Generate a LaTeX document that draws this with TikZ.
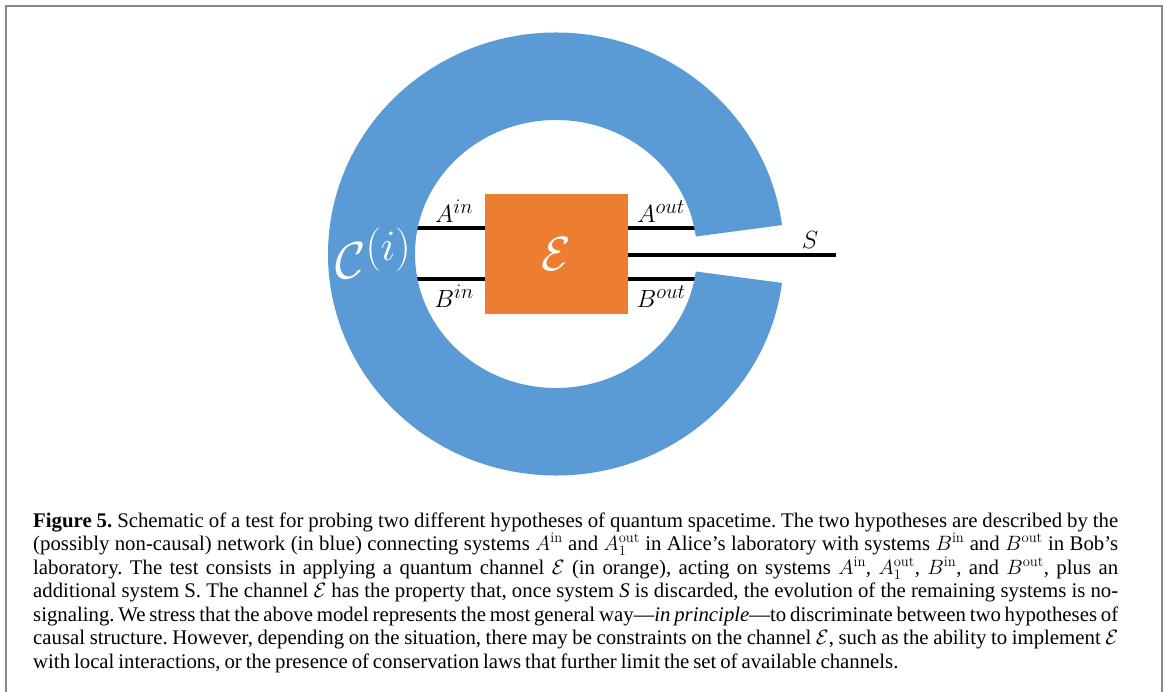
\documentclass[tikz,border=0pt]{standalone}
\usepackage{fontspec}
\newfontfamily\capfont[WordSpace=0.75]{Liberation Serif}
\definecolor{ringblue}{RGB}{91,155,213}
\definecolor{boxorange}{RGB}{237,125,49}
\definecolor{framegray}{RGB}{135,135,135}
\begin{document}
\begin{tikzpicture}[x=1pt,y=-1pt,
  wire/.style={line width=4.5pt,black},
  lbl/.style={anchor=base,inner sep=0pt,font=\fontsize{24.88}{30}\selectfont},
  chanbox/.style={fill=boxorange,minimum width=143pt,minimum height=120pt,inner sep=0pt,text=white,font=\fontsize{24.88}{30}\selectfont},
  ring/.style={fill=ringblue},
  frameline/.style={draw=framegray,line width=2pt}]
\useasboundingbox (0,0) rectangle (1165,692);
\draw[frameline] (6,692) -- (6,6) -- (1162,6) -- (1162,692);
\coordinate (c) at (556,254);
\coordinate (ainL) at (412,228);
\coordinate (binL) at (412,279);
\coordinate (aoutR) at (700,228);
\coordinate (boutR) at (700,279);
\coordinate (sR) at (836,255);
\node[chanbox] (E) at (556.5,254) {\scalebox{1.93}{$\mathcal{E}$}};
\draw[wire] (ainL) -- (ainL -| E.west);
\draw[wire] (binL) -- (binL -| E.west);
\draw[wire] (E.east |- aoutR) -- (aoutR);
\draw[wire] (E.east |- boutR) -- (boutR);
\draw[wire] (E.east |- sR) -- (sR);
\fill[ring] ([shift={(7.5:228 and 221.5)}]c) arc[start angle=7.5,end angle=352.5,x radius=228,y radius=221.5]
  -- ([shift={(352.5:141 and 134)}]c) arc[start angle=352.5,end angle=7.5,x radius=141,y radius=134] -- cycle;
\node[anchor=base west,inner sep=0pt,text=white,font=\fontsize{24.88}{30}\selectfont] (C) at (335,279) {\scalebox{2.09}{$\mathcal{C}^{(i)}$}};
\node[lbl] (Ain) at (454,223) {$A^{in}$};
\node[lbl] (Bin) at (454,308) {$B^{in}$};
\node[lbl] (Aout) at (661,223) {$A^{out}$};
\node[lbl] (Bout) at (661,308) {$B^{out}$};
\node[lbl] (S) at (810,249) {$S$};
\node[anchor=base west,inner sep=0pt] (cap) at (33,527) {\parbox[t]{1085pt}{\capfont\fontsize{20.8}{23.5}\selectfont\frenchspacing
\textbf{Figure 5.} Schematic of a test for probing two different hypotheses of quantum spacetime. The two hypotheses are described by the\linebreak
(possibly non-causal) network (in blue) connecting systems $A^{\mathrm{in}}$ and $A_1^{\mathrm{out}}$ in Alice’s laboratory with systems $B^{\mathrm{in}}$ and $B^{\mathrm{out}}$ in Bob’s\linebreak
laboratory. The test consists in applying a quantum channel $\mathcal{E}$ (in orange), acting on systems $A^{\mathrm{in}}$, $A_1^{\mathrm{out}}$, $B^{\mathrm{in}}$, and $B^{\mathrm{out}}$, plus an\linebreak
additional system S. The channel $\mathcal{E}$ has the property that, once system \textit{S} is discarded, the evolution of the remaining systems is no-\linebreak
signaling. We stress that the above model represents the most general way—\textit{in principle}—to discriminate between two hypotheses of\linebreak
causal structure. However, depending on the situation, there may be constraints on the channel $\mathcal{E}$, such as the ability to implement $\mathcal{E}$\linebreak
with local interactions, or the presence of conservation laws that further limit the set of available channels.}};
\end{tikzpicture}
\end{document}
